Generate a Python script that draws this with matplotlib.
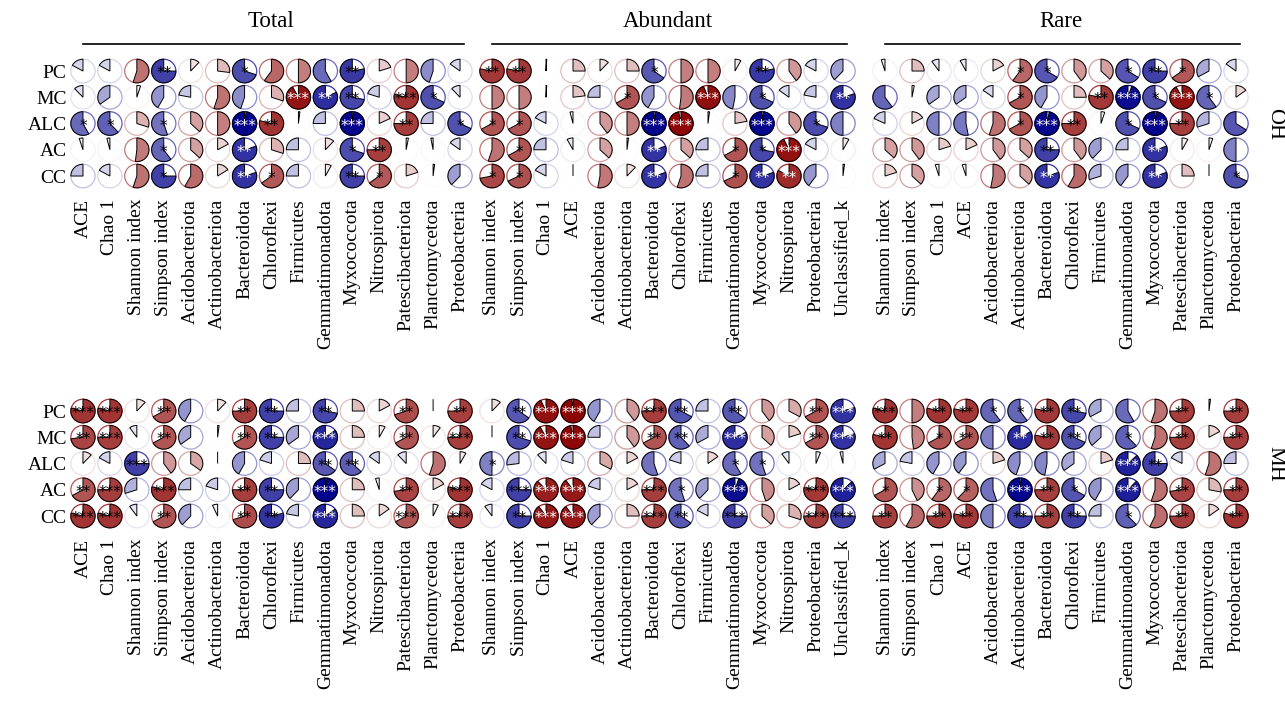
import numpy as np
import matplotlib
matplotlib.use('Agg')
import matplotlib.pyplot as plt
from matplotlib.patches import Wedge, Circle
from matplotlib.colors import LinearSegmentedColormap

plt.rcParams['font.family'] = ['Liberation Serif', 'DejaVu Serif']

rows = ['PC', 'MC', 'ALC', 'AC', 'CC']

total_cols = ['ACE', 'Chao 1', 'Shannon index', 'Simpson index', 'Acidobacteriota',
              'Actinobacteriota', 'Bacteroidota', 'Chloroflexi', 'Firmicutes',
              'Gemmatimonadota', 'Myxococcota', 'Nitrospirota', 'Patescibacteriota',
              'Planctomycetota', 'Proteobacteria']
abund_cols = ['Shannon index', 'Simpson index', 'Chao 1', 'ACE', 'Acidobacteriota',
              'Actinobacteriota', 'Bacteroidota', 'Chloroflexi', 'Firmicutes',
              'Gemmatimonadota', 'Myxococcota', 'Nitrospirota', 'Proteobacteria',
              'Unclassified_k']
rare_cols = ['Shannon index', 'Simpson index', 'Chao 1', 'ACE', 'Acidobacteriota',
             'Actinobacteriota', 'Bacteroidota', 'Chloroflexi', 'Firmicutes',
             'Gemmatimonadota', 'Myxococcota', 'Patescibacteriota', 'Planctomycetota',
             'Proteobacteria']

# ---- OH ----
oh_total = [
    [-0.17, -0.17, 0.55, -0.75, 0.12, 0.27, -0.70, 0.60, 0.50, -0.58, -0.78, 0.20, 0.50, -0.45, -0.15],
    [-0.12, -0.35, 0.05, -0.42, -0.22, 0.55, -0.45, 0.30, 0.92, -0.82, -0.72, -0.20, 0.79, -0.68, -0.12],
    [-0.58, -0.62, 0.30, -0.55, 0.37, 0.50, -0.98, 0.79, 0.02, -0.25, -0.98, 0.18, 0.75, -0.25, -0.68],
    [-0.05, -0.04, 0.52, -0.60, 0.37, 0.17, -0.80, 0.30, -0.25, 0.12, -0.70, 0.75, 0.03, -0.03, -0.15],
    [-0.25, -0.17, 0.55, -0.75, 0.58, 0.16, -0.80, 0.65, -0.25, 0.08, -0.75, 0.65, 0.20, 0.02, -0.38],
]
oh_total_sig = [
    ". . . ** . . * . . . ** . . . .",
    ". . . . . . . . *** ** ** . *** * .",
    "* * . * . . *** ** . . *** . ** . *",
    ". . . * . . ** . . . * ** . . .",
    ". . . * . . ** * . . ** * . . .",
]
oh_abund = [
    [0.78, 0.78, 0.01, 0.25, 0.12, 0.25, -0.65, 0.50, 0.50, 0.08, -0.78, 0.40, -0.17, -0.38],
    [0.50, 0.50, 0.01, 0.23, -0.25, 0.67, -0.42, 0.52, 0.94, -0.47, -0.68, -0.15, -0.22, -0.80],
    [0.67, 0.67, -0.17, -0.04, 0.40, 0.50, -0.98, 0.97, 0.02, 0.22, -0.98, 0.40, -0.70, -0.50],
    [0.55, 0.67, -0.25, -0.08, 0.37, 0.02, -0.80, 0.37, -0.25, 0.67, -0.72, 0.93, -0.17, 0.08],
    [0.72, 0.68, -0.17, 0.00, 0.53, 0.12, -0.80, 0.55, -0.25, 0.68, -0.80, 0.83, -0.40, 0.02],
]
oh_abund_sig = [
    "** ** . . . . * . . . ** . . .",
    ". . . . . * . . *** . * . . **",
    "* * . . . . *** *** . . *** . * .",
    ". * . . . . ** . . * * *** . .",
    "* * . . . . ** . . * ** ** . .",
]
oh_rare = [
    [-0.05, 0.25, -0.10, -0.08, 0.17, 0.60, -0.66, 0.40, 0.37, -0.66, -0.75, 0.65, -0.33, -0.15],
    [-0.60, 0.03, -0.35, -0.35, -0.15, 0.67, -0.42, 0.25, 0.78, -0.95, -0.68, 0.92, -0.60, 0.15],
    [-0.18, 0.17, -0.50, -0.53, 0.55, 0.67, -0.97, 0.75, 0.05, -0.68, -0.98, 0.75, -0.30, -0.66],
    [0.37, 0.40, 0.20, 0.18, 0.40, 0.37, -0.75, 0.40, -0.38, -0.25, -0.80, 0.08, 0.05, -0.50],
    [0.20, 0.37, -0.05, -0.05, 0.53, 0.37, -0.80, 0.58, -0.30, -0.40, -0.80, 0.25, 0.00, -0.68],
]
oh_rare_sig = [
    ". . . . . * * . . * ** * . .",
    ". . . . . * . . ** *** * *** * .",
    ". . . . . * *** ** . * *** ** . .",
    ". . . . . . ** . . . ** . . .",
    ". . . . . . ** . . . ** . . *",
]

# ---- MH ----
mh_total = [
    [0.79, 0.79, 0.12, 0.67, -0.42, 0.12, 0.75, -0.75, -0.25, -0.72, 0.25, 0.17, 0.70, 0.00, 0.75],
    [0.73, 0.75, -0.10, 0.67, -0.35, 0.02, 0.67, -0.75, -0.35, -0.85, 0.25, 0.08, 0.67, 0.10, 0.75],
    [0.12, -0.17, -0.75, 0.40, 0.35, 0.00, -0.42, -0.20, 0.25, -0.65, -0.63, -0.15, -0.12, 0.55, 0.08],
    [0.67, 0.75, -0.30, 0.79, -0.25, -0.20, 0.75, -0.75, -0.38, -0.98, 0.25, -0.05, 0.73, 0.17, 0.79],
    [0.79, 0.79, -0.10, 0.67, -0.38, -0.07, 0.70, -0.79, -0.22, -0.85, 0.25, 0.15, 0.67, 0.07, 0.75],
]
mh_total_sig = [
    "*** *** . ** . . ** ** . ** . . ** . **",
    "** *** . ** . . ** ** . *** . . ** . ***",
    ". . *** . . . . . . ** ** . . . .",
    "** *** . *** . . ** ** . *** . . ** . ***",
    "*** *** . ** . . ** ** . *** . . *** . ***",
]
mh_abund = [
    [0.12, -0.65, 0.93, 0.98, -0.42, 0.40, 0.75, -0.67, -0.25, -0.65, 0.40, 0.33, 0.67, -0.80],
    [0.00, -0.70, 0.92, 0.97, -0.25, 0.40, 0.67, -0.62, -0.33, -0.82, 0.37, 0.20, 0.67, -0.80],
    [-0.50, -0.27, -0.12, -0.20, 0.33, 0.17, -0.55, -0.20, 0.15, -0.58, -0.55, -0.10, 0.06, -0.04],
    [-0.17, -0.75, 0.88, 0.90, -0.20, 0.17, 0.75, -0.55, -0.38, -0.95, 0.45, 0.17, 0.78, -0.87],
    [-0.10, -0.75, 0.90, 0.90, -0.38, 0.25, 0.75, -0.65, -0.17, -0.75, 0.37, 0.30, 0.75, -0.75],
]
mh_abund_sig = [
    ". ** *** *** . . *** ** . ** . . ** ***",
    ". ** *** *** . . ** ** . *** . . ** ***",
    "* . . . . . . . . * * . . .",
    ". *** *** *** . . *** * . *** . . *** ***",
    ". ** *** *** . . *** ** . *** . . *** ***",
]
mh_rare = [
    [0.79, 0.50, 0.79, 0.78, -0.60, -0.60, 0.78, -0.72, -0.33, -0.58, 0.55, 0.75, 0.02, 0.75],
    [0.79, 0.48, 0.67, 0.67, -0.50, -0.83, 0.78, -0.68, -0.37, -0.62, 0.55, 0.75, 0.17, 0.75],
    [-0.33, -0.22, -0.42, -0.40, 0.20, -0.45, -0.47, -0.35, 0.20, -0.87, -0.75, -0.17, 0.55, -0.25],
    [0.67, 0.43, 0.60, 0.62, -0.55, -0.98, 0.75, -0.67, -0.42, -0.88, 0.55, 0.73, 0.28, 0.75],
    [0.75, 0.58, 0.75, 0.78, -0.50, -0.75, 0.75, -0.75, -0.25, -0.62, 0.57, 0.75, 0.15, 0.79],
]
mh_rare_sig = [
    "*** . ** ** * * ** ** . . . ** . **",
    "** . * ** . ** ** ** . * . ** . **",
    ". . . . . . . . . *** ** . . .",
    "* . * * . *** ** * . *** . ** . **",
    "** . ** ** . ** ** ** . * . ** . **",
]

cmap = LinearSegmentedColormap.from_list('bwr_dark', ['#00008B', '#FFFFFF', '#8B0000'])

W, H = 1285, 722
fig = plt.figure(figsize=(W / 100, H / 100), dpi=100)


def px_axes(left, top, width, height):
    return fig.add_axes([left / W, 1 - (top + height) / H, width / W, height / H])


def draw_panel(ax, vals, sig, cols, show_rows, title=None, side=None):
    vals = np.array(vals)
    n = len(cols)
    for i in range(len(rows)):
        stars = sig[i].split()
        for j in range(n):
            r = vals[i, j]
            c = cmap((r + 1) / 2)
            ax.add_patch(Circle((j, i), 0.45, fill=False, ec=c, lw=0.9))
            ang = 360 * abs(r)
            # y axis is inverted, so -90 points up; positive goes clockwise on screen
            if r >= 0:
                w = Wedge((j, i), 0.45, -90, -90 + ang, fc=c, ec='black', lw=0.7)
            else:
                w = Wedge((j, i), 0.45, -90 - ang, -90, fc=c, ec='black', lw=0.7)
            ax.add_patch(w)
            if stars[j] != '.':
                sc = 'white' if abs(r) >= 0.8 else 'black'
                ax.text(j, i + 0.1, stars[j], ha='center', va='center',
                        fontsize=11, color=sc, family='DejaVu Sans')
    ax.set_xlim(-0.5, n - 0.5)
    ax.set_ylim(len(rows) - 0.5, -0.5)
    ax.set_xticks(range(n))
    ax.set_xticklabels(cols, rotation=90, fontsize=14)
    ax.tick_params(length=0, pad=7)
    if show_rows:
        ax.set_yticks(range(len(rows)))
        ax.set_yticklabels(rows, fontsize=14)
        ax.tick_params(axis='y', pad=2)
    else:
        ax.set_yticks([])
    for s in ax.spines.values():
        s.set_visible(False)
    if title:
        ax.plot([0, n - 1 + 0.15], [-1.03, -1.03], color='black', lw=1.2, clip_on=False)
        ax.text((n - 1) / 2, -1.87, title, ha='center', va='center', fontsize=16.5)
    if side:
        ax.text(n - 0.5 + 0.94, 2, side, ha='center', va='center', rotation=-90,
                fontsize=16)


top_y, bot_y, hgt = 57.9, 397.9, 131.25

ax = px_axes(69.5, top_y, 404, hgt)
draw_panel(ax, oh_total, oh_total_sig, total_cols, True, 'Total')
ax = px_axes(478.5, top_y, 378, hgt)
draw_panel(ax, oh_abund, oh_abund_sig, abund_cols, False, 'Abundant')
ax = px_axes(871.5, top_y, 378, hgt)
draw_panel(ax, oh_rare, oh_rare_sig, rare_cols, False, 'Rare', 'OH')

ax = px_axes(69.5, bot_y, 404, hgt)
draw_panel(ax, mh_total, mh_total_sig, total_cols, True)
ax = px_axes(478.5, bot_y, 378, hgt)
draw_panel(ax, mh_abund, mh_abund_sig, abund_cols, False)
ax = px_axes(871.5, bot_y, 378, hgt)
draw_panel(ax, mh_rare, mh_rare_sig, rare_cols, False, side='MH')

fig.savefig('out.png', dpi=100)
